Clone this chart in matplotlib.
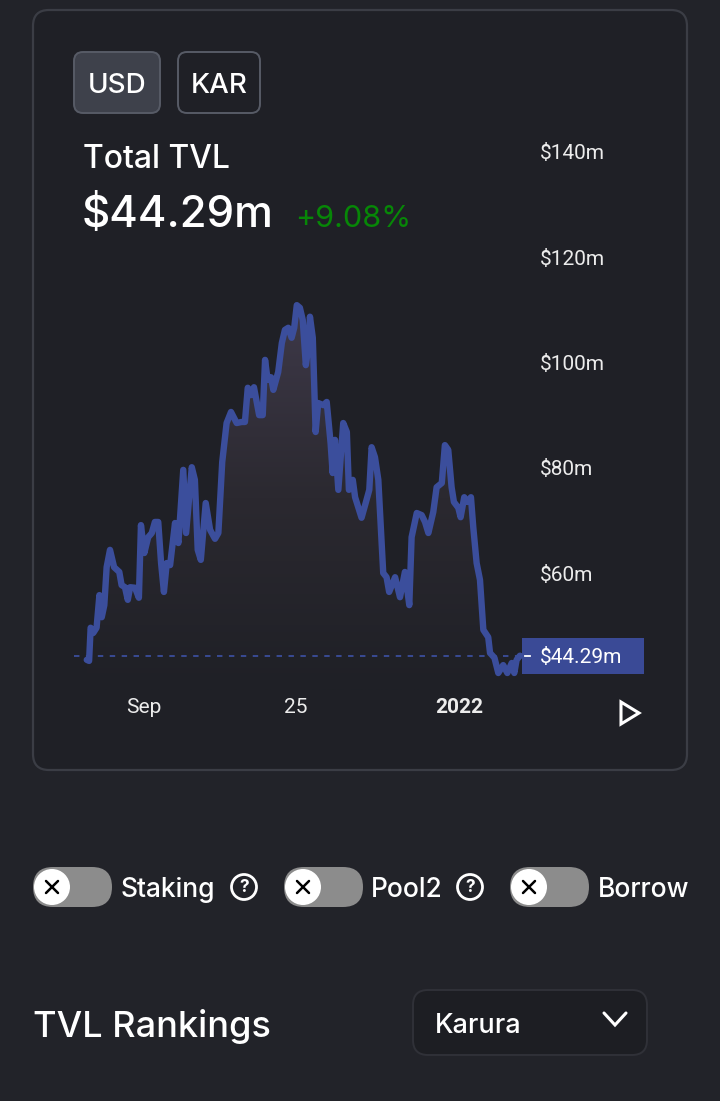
import matplotlib
matplotlib.use("Agg")
import matplotlib.pyplot as plt
import numpy as np
from matplotlib.patches import FancyBboxPatch, Polygon, Circle
from matplotlib.colors import LinearSegmentedColormap

plt.rcParams['font.family'] = ['Inter', 'DejaVu Sans']

# TVL series (days since start of the shown range, value in $m)
days = [0.3, 1.2, 1.8, 2.8, 4.1, 5.2, 6.1, 7.1, 8.0, 9.3, 10.9, 12.9, 13.8, 15.1,
        16.2, 17.1, 19.0, 20.5, 21.3, 22.6, 24.1, 25.5, 26.7, 28.0, 29.1, 30.2,
        31.3, 32.6, 34.5, 35.8, 37.7, 38.8, 41.0, 42.2, 43.3, 44.5, 46.4, 48.1,
        50.0, 51.3, 52.8, 54.5, 56.2, 58.4, 60.3, 61.6, 62.7, 63.8, 65.1, 67.1,
        68.5, 69.4, 70.4, 71.7, 72.6, 74.5, 75.9, 77.1, 78.4, 79.7, 80.7, 81.7,
        82.9, 84.0, 85.2, 86.2, 86.8, 87.9, 89.0, 90.0, 92.0, 93.3, 94.8, 95.6,
        96.5, 97.8, 99.7, 101.1, 101.9, 103.4, 104.3, 106.8, 108.4, 109.8, 110.7,
        112.0, 113.3, 115.2, 116.5, 117.5, 119.8, 121.7, 123.6, 125.3, 126.2,
        128.2, 130.1, 131.4, 132.7, 134.6, 135.9, 137.9, 139.1, 140.4, 141.7,
        142.6, 144.3, 145.2, 146.6, 147.9, 149.2, 150.1, 151.4, 152.7, 154.0,
        155.9, 156.6, 158.3, 159.8, 161.7, 163.3, 165.0, 166.0, 166.9, 168.2]
tvl = [43.5, 43.3, 49.6, 48.6, 49.6, 55.8, 51.6, 53.9, 61.1, 64.4, 61.1, 60.2,
       57.7, 57.3, 54.9, 57.3, 57.2, 55.3, 69.1, 63.8, 66.8, 67.6, 69.7, 69.7,
       61.9, 56.4, 61.9, 61.5, 69.5, 65.7, 79.6, 67.6, 80.1, 77.7, 64.4, 62.5,
       73.3, 68.2, 66.5, 67.6, 81.1, 88.5, 90.6, 88.5, 88.7, 88.7, 95.2, 93.8,
       95.3, 90.0, 90.0, 100.5, 96.7, 97.2, 94.8, 98.2, 103.7, 106.2, 106.6,
       104.7, 106.6, 110.9, 110.4, 108.1, 99.5, 102.9, 108.7, 104.7, 86.8, 92.3,
       91.9, 92.5, 84.7, 79.0, 85.3, 75.8, 88.5, 86.8, 75.8, 77.7, 74.4, 70.5,
       73.3, 75.8, 83.9, 82.0, 77.7, 60.0, 59.2, 56.4, 59.2, 55.4, 60.2, 53.9,
       66.8, 71.4, 71.0, 69.7, 67.6, 71.6, 76.3, 77.1, 84.3, 83.4, 76.3, 73.5,
       72.4, 70.6, 74.4, 73.5, 74.4, 68.7, 61.9, 58.7, 49.2, 47.8, 44.8, 43.9,
       41.0, 42.5, 41.0, 42.9, 41.0, 43.5, 44.29]

tick_days = [22.5, 81.4, 144.6]
tick_labels = ['Sep', '25', '2022']
y_ticks = [60, 80, 100, 120, 140]
y_labels = ['$60m', '$80m', '$100m', '$120m', '$140m']

current = '$44.29m'
change = '+9.08%'
toggles = ['Staking', 'Pool2', 'Borrow']

BG = '#222329'
CARD = '#1f2026'
LINE = '#3b4e9c'
W, H = 720, 1101

fig = plt.figure(figsize=(W / 100, H / 100), dpi=100, facecolor=BG)

# UI layer in pixel coordinates
ui = fig.add_axes([0, 0, 1, 1], zorder=0)
ui.set_xlim(0, W)
ui.set_ylim(H, 0)
ui.axis('off')

def rbox(x0, y0, x1, y1, r, fc, ec, lw=1.5):
    p = FancyBboxPatch((x0, y0), x1 - x0, y1 - y0,
                       boxstyle=f"round,pad=0,rounding_size={r}",
                       fc=fc, ec=ec, lw=lw)
    ui.add_patch(p)

# chart card
rbox(33, 10, 687, 770, 16, CARD, '#3b3d45', 1.6)

# currency buttons
rbox(74, 52, 160, 113, 9, '#3e414b', '#575b66', 1.4)
rbox(178, 52, 260, 113, 9, CARD, '#575b66', 1.4)
ui.text(117, 93, 'USD', color='white', fontsize=20, ha='center', va='baseline',
        fontweight='medium')
ui.text(219, 93, 'KAR', color='white', fontsize=20, ha='center', va='baseline',
        fontweight='medium')

ui.text(83, 168, 'Total TVL', color='white', fontsize=23, va='baseline',
        fontweight='medium')
ui.text(82, 227, current, color='white', fontsize=31.5, va='baseline',
        fontweight='medium')
ui.text(295, 227, change, color='#078707', fontsize=22, va='baseline')

# play icon
ui.add_patch(Polygon([(621, 702), (621, 724), (639, 713)], closed=True,
                     fill=False, ec='white', lw=2.2, joinstyle='miter'))

# toggles row
tog_x = [33, 284, 510]
lab_x = [121, 371, 598]
help_x = [244, 470, None]
for tx, lx, hx, name in zip(tog_x, lab_x, help_x, toggles):
    rbox(tx, 867, tx + 79, 907, 20, '#8c8c8c', 'none', 0)
    ui.add_patch(Circle((tx + 19, 887), 18, fc='white', ec='none'))
    cx = tx + 19
    ui.plot([cx - 6, cx + 6], [881, 893], color='black', lw=1.8,
            solid_capstyle='round')
    ui.plot([cx - 6, cx + 6], [893, 881], color='black', lw=1.8,
            solid_capstyle='round')
    t = ui.text(lx, 897, name, color='white', fontsize=19, va='baseline',
                fontweight='medium')
    if hx is not None:
        ui.add_patch(Circle((hx, 887), 12.5, fill=False, ec='white', lw=2))
        ui.text(hx, 887.5, '?', color='white', fontsize=12.5, ha='center',
                va='center', fontweight='bold')

ui.text(33, 1037, 'TVL Rankings', color='white', fontsize=26, va='baseline',
        fontweight='medium')
rbox(413, 990, 647, 1055, 15, '#1d1e23', '#303138', 1.4)
ui.text(435, 1033, 'Karura', color='white', fontsize=19.5, va='baseline',
        fontweight='medium')
ui.plot([604, 615, 626], [1013, 1025, 1013], color='white', lw=2.2,
        solid_capstyle='round', solid_joinstyle='miter')

# chart axes (pixel box 74..525 x 140..690)
ax = fig.add_axes([74 / W, 1 - 690 / H, (525 - 74) / W, (690 - 140) / H],
                  zorder=1)
ax.patch.set_alpha(0)
for s in ax.spines.values():
    s.set_visible(False)

x0, x1 = -4.65, 170.15
y0, y1 = 37.77, 142.28

verts = [(days[0], y0)] + list(zip(days, tvl)) + [(days[-1], y0)]
clip = Polygon(verts, closed=True, transform=ax.transData)
cmap = LinearSegmentedColormap.from_list('fade', [CARD, '#2b2930', '#3e3949'])
grad = np.linspace(0, 1, 256).reshape(-1, 1)
im = ax.imshow(grad, extent=[days[0], days[-1], y0, max(tvl)], origin='lower',
               aspect='auto', cmap=cmap, zorder=1)
im.set_clip_path(clip)

ax.plot(days, tvl, color=LINE, lw=4.6, solid_joinstyle='round',
        solid_capstyle='round', zorder=3)
ax.axhline(tvl[-1], color=LINE, lw=1.3, dashes=(3, 3.6), zorder=2)

ax.set_xlim(x0, x1)
ax.set_ylim(y0, y1)

ax.yaxis.tick_right()
ax.set_yticks(y_ticks)
ax.set_yticklabels(y_labels)
ax.set_xticks(tick_days)
ax.set_xticklabels(tick_labels)
ax.tick_params(axis='y', length=0, pad=11, labelsize=15, labelcolor='#ececec')
ax.tick_params(axis='x', length=0, pad=5.5, labelsize=15, labelcolor='#ececec')
for lab in ax.get_yticklabels() + ax.get_xticklabels():
    lab.set_fontfamily(['Roboto', 'DejaVu Sans'])
ax.get_xticklabels()[-1].set_fontweight('bold')

# current value marker on the price scale
fig.canvas.draw()
ydisp = ax.transData.transform((0, tvl[-1]))[1]
yc = ui.transData.inverted().transform((0, ydisp))[1]
ui.add_patch(plt.Rectangle((522, yc - 18), 122, 36, fc='#3a4a96', ec='none',
                           zorder=5))
ui.plot([525, 530], [yc, yc], color='white', lw=1.3, zorder=6)
ui.text(540, yc, current, color='white', fontsize=15, va='center_baseline',
        family=['Roboto', 'DejaVu Sans'], zorder=6)

fig.savefig('out.png', dpi=100, facecolor=BG)
